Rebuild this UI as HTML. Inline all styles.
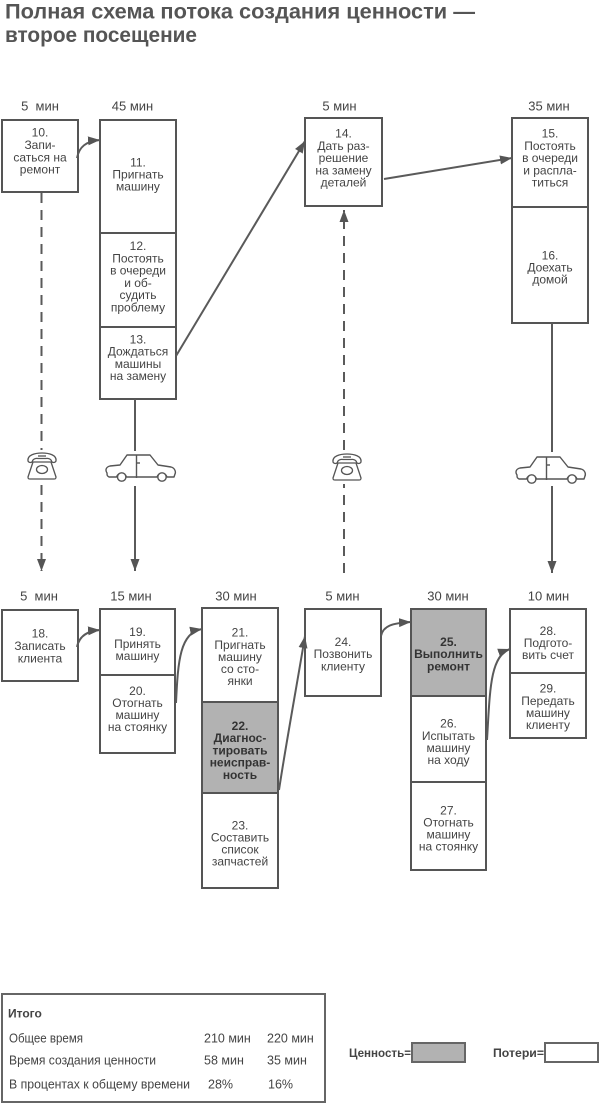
<!DOCTYPE html>
<html><head><meta charset="utf-8">
<style>
html,body{margin:0;padding:0;background:#fff;}
svg{display:block;}
text{font-family:"Liberation Sans","DejaVu Sans",sans-serif;}
</style></head>
<body>
<svg width="600" height="1104" viewBox="0 0 600 1104" xmlns="http://www.w3.org/2000/svg">
<defs>
<marker id="ah" markerUnits="userSpaceOnUse" markerWidth="13" markerHeight="10" refX="12" refY="4.5" orient="auto">
<path d="M0,0 L12,4.5 L0,9 Z" fill="#555"/>
</marker>
</defs>

<!-- Title -->
<text x="5" y="18.5" font-size="21" font-weight="bold" fill="#555" textLength="470" lengthAdjust="spacingAndGlyphs">Полная схема потока создания ценности —</text>
<text x="5" y="42" font-size="21" font-weight="bold" fill="#555" textLength="192" lengthAdjust="spacingAndGlyphs">второе посещение</text>

<!-- Time labels -->
<g font-size="13" fill="#444" text-anchor="middle">
<text x="40" y="110.5">5 &#160;мин</text>
<text x="132.5" y="110.5">45 мин</text>
<text x="339.5" y="110.5">5 мин</text>
<text x="549" y="110.5">35 мин</text>
<text x="39" y="600.5">5 &#160;мин</text>
<text x="131" y="600.5">15 мин</text>
<text x="236" y="600.5">30 мин</text>
<text x="342.5" y="600.5">5 мин</text>
<text x="448" y="600.5">30 мин</text>
<text x="548.5" y="600.5">10 мин</text>
</g>

<!-- gray fills -->
<rect x="202" y="702" width="76" height="91" fill="#b2b2b2"/>
<rect x="411" y="609" width="75" height="87" fill="#b2b2b2"/>

<!-- Boxes -->
<g fill="none" stroke="#555" stroke-width="2">
<rect x="2" y="120" width="76" height="72"/>
<rect x="100" y="120" width="76" height="279"/>
<line x1="100" y1="233" x2="176" y2="233"/>
<line x1="100" y1="327" x2="176" y2="327"/>
<rect x="305" y="118" width="77" height="88"/>
<rect x="512" y="118" width="76" height="205"/>
<line x1="512" y1="207" x2="588" y2="207"/>

<rect x="2" y="610" width="76" height="71"/>
<rect x="100" y="609" width="75" height="144"/>
<line x1="100" y1="675" x2="175" y2="675"/>
<rect x="202" y="608" width="76" height="280"/>
<line x1="202" y1="702" x2="278" y2="702"/>
<line x1="202" y1="793" x2="278" y2="793"/>
<rect x="305" y="609" width="76" height="87"/>
<rect x="411" y="609" width="75" height="261"/>
<line x1="411" y1="696" x2="486" y2="696"/>
<line x1="411" y1="782" x2="486" y2="782"/>
<rect x="510" y="609" width="76" height="129"/>
<line x1="510" y1="673" x2="586" y2="673"/>
</g>

<!-- Box texts -->
<g font-size="12" fill="#444" text-anchor="middle">
<text x="40" y="136.5">10.</text>
<text x="40" y="149">Запи-</text>
<text x="40" y="161.3">саться на</text>
<text x="40" y="173.6">ремонт</text>

<text x="138" y="166.5">11.</text>
<text x="138" y="178.5">Пригнать</text>
<text x="138" y="190.5">машину</text>

<text x="138" y="250">12.</text>
<text x="138" y="262.3">Постоять</text>
<text x="138" y="274.6">в очереди</text>
<text x="138" y="286.9">и об-</text>
<text x="138" y="299.2">судить</text>
<text x="138" y="311.5">проблему</text>

<text x="138" y="343.3">13.</text>
<text x="138" y="355.6">Дождаться</text>
<text x="138" y="367.9">машины</text>
<text x="138" y="380.2">на замену</text>

<text x="343.5" y="137.7">14.</text>
<text x="343.5" y="149.9">Дать раз-</text>
<text x="343.5" y="162.1">решение</text>
<text x="343.5" y="174.3">на замену</text>
<text x="343.5" y="186.5">деталей</text>

<text x="550" y="137.7">15.</text>
<text x="550" y="149.9">Постоять</text>
<text x="550" y="162.1">в очереди</text>
<text x="550" y="174.3">и распла-</text>
<text x="550" y="186.5">титься</text>

<text x="550" y="259.3">16.</text>
<text x="550" y="271.3">Доехать</text>
<text x="550" y="283.3">домой</text>

<text x="40" y="637.7">18.</text>
<text x="40" y="650">Записать</text>
<text x="40" y="662.3">клиента</text>

<text x="137.5" y="636">19.</text>
<text x="137.5" y="648">Принять</text>
<text x="137.5" y="660">машину</text>

<text x="137.5" y="695">20.</text>
<text x="137.5" y="707">Отогнать</text>
<text x="137.5" y="719">машину</text>
<text x="137.5" y="731">на стоянку</text>

<text x="240" y="636.7">21.</text>
<text x="240" y="648.8">Пригнать</text>
<text x="240" y="660.9">машину</text>
<text x="240" y="673">со сто-</text>
<text x="240" y="685.1">янки</text>

<text x="240" y="829.3">23.</text>
<text x="240" y="841.3">Составить</text>
<text x="240" y="853.3">список</text>
<text x="240" y="865.3">запчастей</text>

<text x="343" y="646">24.</text>
<text x="343" y="658.2">Позвонить</text>
<text x="343" y="670.4">клиенту</text>

<text x="448.5" y="727.7">26.</text>
<text x="448.5" y="739.8">Испытать</text>
<text x="448.5" y="751.9">машину</text>
<text x="448.5" y="764">на ходу</text>

<text x="448.5" y="814.3">27.</text>
<text x="448.5" y="826.3">Отогнать</text>
<text x="448.5" y="838.3">машину</text>
<text x="448.5" y="850.3">на стоянку</text>

<text x="548" y="635">28.</text>
<text x="548" y="647">Подгото-</text>
<text x="548" y="659">вить счет</text>

<text x="548" y="692.7">29.</text>
<text x="548" y="704.8">Передать</text>
<text x="548" y="716.9">машину</text>
<text x="548" y="729">клиенту</text>
</g>
<g font-size="12" fill="#333" font-weight="bold" text-anchor="middle">
<text x="240" y="730">22.</text>
<text x="240" y="742.2">Диагнос-</text>
<text x="240" y="754.4">тировать</text>
<text x="240" y="766.6">неисправ-</text>
<text x="240" y="778.8">ность</text>

<text x="448.5" y="646">25.</text>
<text x="448.5" y="658.2">Выполнить</text>
<text x="448.5" y="670.4">ремонт</text>
</g>

<!-- Connectors -->
<g fill="none" stroke="#5a5a5a" stroke-width="2">
<path d="M77,158 C79,147 86,141 100,140" marker-end="url(#ah)"/>
<line x1="176" y1="356" x2="305" y2="141" marker-end="url(#ah)"/>
<line x1="384" y1="179" x2="512" y2="158" marker-end="url(#ah)"/>

<path d="M77,647 C79,637 86,631 100,630" marker-end="url(#ah)"/>
<path d="M176,703 C178,660 180,633 202,629" marker-end="url(#ah)"/>
<path d="M279,790 C285,750 296,690 305,636" marker-end="url(#ah)"/>
<path d="M381,636 C383,626 392,623 411,622" marker-end="url(#ah)"/>
<path d="M487,740 C490,690 490,656 510,649" marker-end="url(#ah)"/>

<line x1="41.5" y1="193" x2="41.5" y2="450" stroke-dasharray="10 7"/>
<line x1="41.5" y1="485" x2="41.5" y2="571" stroke-dasharray="10 7" marker-end="url(#ah)"/>

<line x1="135" y1="399" x2="135" y2="451"/>
<line x1="135" y1="486" x2="135" y2="571" marker-end="url(#ah)"/>

<line x1="344" y1="573" x2="344" y2="484" stroke-dasharray="10 7"/>
<line x1="344" y1="450" x2="344" y2="210" stroke-dasharray="10 7" marker-end="url(#ah)"/>

<line x1="552" y1="323" x2="552" y2="452"/>
<line x1="552" y1="486" x2="552" y2="573" marker-end="url(#ah)"/>
</g>

<!-- Phones -->
<g transform="translate(26,452)" fill="#fff" stroke="#555" stroke-width="1.3" stroke-linejoin="round">
<path d="M7,10 L25,10 L30,25 C30,27 29,27 28,27 L4,27 C3,27 2,27 2,25 Z"/>
<ellipse cx="16" cy="17.5" rx="5.5" ry="4"/>
<path d="M2,9 C1,3 9,1 16,1 C23,1 31,3 30,9 C29,11 26,11 25.5,9 C25,7 22,6 20,6.5 L12,6.5 C10,6 7,7 6.5,9 C6,11 3,11 2,9 Z"/>
<line x1="12" y1="4" x2="20" y2="4"/>
</g>
<g transform="translate(331,453)" fill="#fff" stroke="#555" stroke-width="1.3" stroke-linejoin="round">
<path d="M7,10 L25,10 L30,25 C30,27 29,27 28,27 L4,27 C3,27 2,27 2,25 Z"/>
<ellipse cx="16" cy="17.5" rx="5.5" ry="4"/>
<path d="M2,9 C1,3 9,1 16,1 C23,1 31,3 30,9 C29,11 26,11 25.5,9 C25,7 22,6 20,6.5 L12,6.5 C10,6 7,7 6.5,9 C6,11 3,11 2,9 Z"/>
<line x1="12" y1="4" x2="20" y2="4"/>
</g>

<!-- Cars -->
<g transform="translate(105,453)" fill="#fff" stroke="#555" stroke-width="1.4" stroke-linejoin="round">
<path d="M2,20 C0,17 1,14 5,13 L15,12 L22,2 L45,2 L53,12 L66,14 C70,15 71,19 70,21 L69,24 L62,24 A5.2,5.2 0 0 0 52,24 L21.5,24 A5.2,5.2 0 0 0 11.5,24 L4,24 C2,23 2,22 2,20 Z"/>
<circle cx="16.7" cy="24" r="4.2"/>
<circle cx="57" cy="24" r="4.2"/>
<line x1="31.5" y1="2" x2="31.5" y2="25"/>
<line x1="32" y1="10" x2="35" y2="10"/>
</g>
<g transform="translate(515,455)" fill="#fff" stroke="#555" stroke-width="1.4" stroke-linejoin="round">
<path d="M2,20 C0,17 1,14 5,13 L15,12 L22,2 L45,2 L53,12 L66,14 C70,15 71,19 70,21 L69,24 L62,24 A5.2,5.2 0 0 0 52,24 L21.5,24 A5.2,5.2 0 0 0 11.5,24 L4,24 C2,23 2,22 2,20 Z"/>
<circle cx="16.7" cy="24" r="4.2"/>
<circle cx="57" cy="24" r="4.2"/>
<line x1="31.5" y1="2" x2="31.5" y2="25"/>
<line x1="32" y1="10" x2="35" y2="10"/>
</g>

<!-- Legend / totals -->
<rect x="2" y="994" width="323" height="108" fill="none" stroke="#666" stroke-width="2"/>
<g font-size="12.5" fill="#444">
<text x="8" y="1017.5" font-weight="bold" font-size="12">Итого</text>
<text x="9" y="1042.5" textLength="74" lengthAdjust="spacingAndGlyphs">Общее время</text>
<text x="9" y="1064.5" textLength="147" lengthAdjust="spacingAndGlyphs">Время создания ценности</text>
<text x="9" y="1088.5" textLength="181" lengthAdjust="spacingAndGlyphs">В процентах к общему времени</text>
<text x="204" y="1042.5">210 мин</text>
<text x="267" y="1042.5">220 мин</text>
<text x="204" y="1064.5">58 мин</text>
<text x="267" y="1064.5">35 мин</text>
<text x="208" y="1088.5">28%</text>
<text x="268" y="1088.5">16%</text>
</g>

<text x="349" y="1057" font-size="12" font-weight="bold" fill="#444" textLength="62" lengthAdjust="spacingAndGlyphs">Ценность=</text>
<rect x="412" y="1043" width="53" height="19" fill="#b2b2b2" stroke="#666" stroke-width="2"/>
<text x="493" y="1057" font-size="12" font-weight="bold" fill="#444" textLength="51" lengthAdjust="spacingAndGlyphs">Потери=</text>
<rect x="545" y="1043" width="53" height="19" fill="#fff" stroke="#666" stroke-width="2"/>
</svg>
</body></html>
